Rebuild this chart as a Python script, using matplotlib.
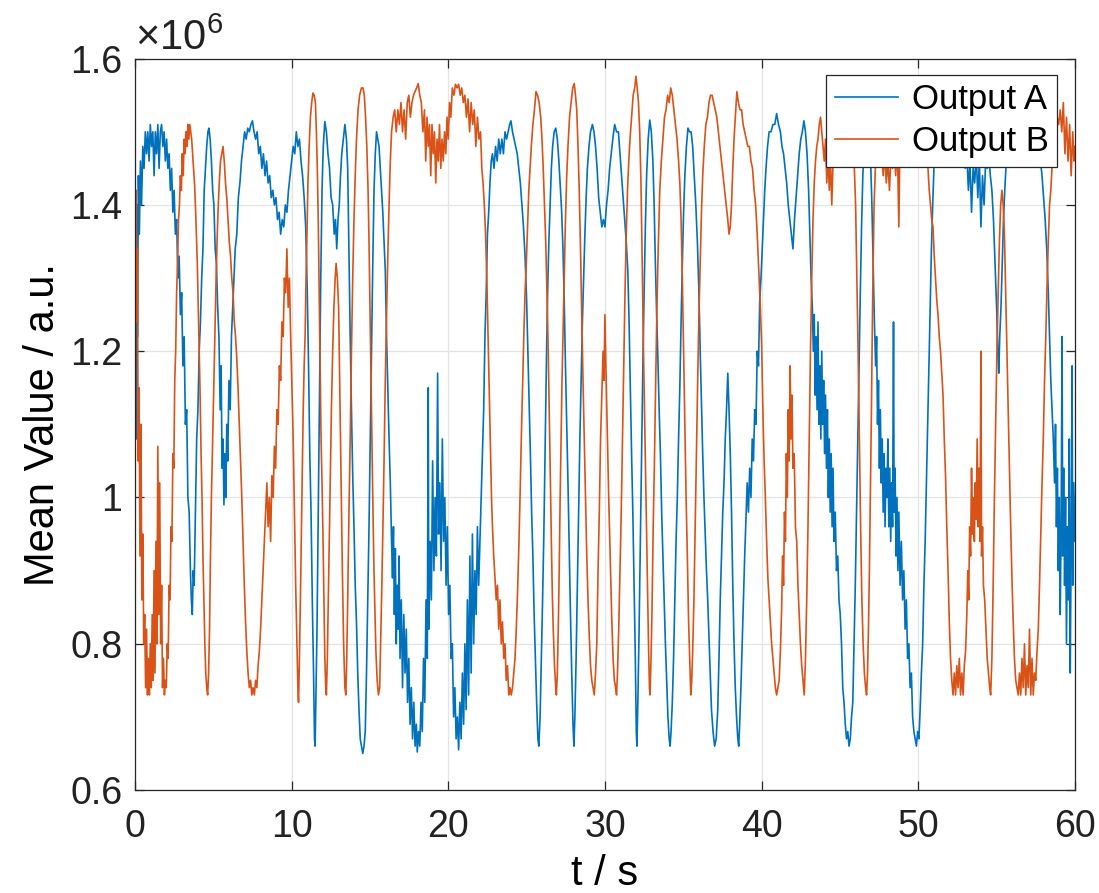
import matplotlib
matplotlib.use("Agg")
import matplotlib.pyplot as plt

plt.rcParams.update({
    "font.family": ["Liberation Sans", "DejaVu Sans"],
    "mathtext.fontset": "custom",
    "mathtext.rm": "Liberation Sans",
    "mathtext.it": "Liberation Sans",
})

# Mean value (x 1e6) against time t (s)
output_a = [
    (0.00, 1.15), (0.04, 1.32), (0.08, 1.08), (0.12, 1.40), (0.16, 1.22), (0.22, 1.44), (0.28, 1.36), (0.35, 1.46),
    (0.42, 1.40), (0.50, 1.48), (0.58, 1.45), (0.66, 1.50), (0.74, 1.47), (0.82, 1.50), (0.90, 1.46), (0.98, 1.51),
    (1.06, 1.48), (1.14, 1.50), (1.22, 1.44), (1.30, 1.50), (1.38, 1.47), (1.46, 1.51), (1.54, 1.45), (1.62, 1.50),
    (1.70, 1.51), (1.78, 1.48), (1.86, 1.50), (1.94, 1.46), (2.02, 1.49), (2.10, 1.45), (2.18, 1.47), (2.26, 1.42),
    (2.34, 1.45), (2.42, 1.39), (2.50, 1.42), (2.58, 1.36), (2.66, 1.38), (2.74, 1.30), (2.82, 1.33), (2.90, 1.25),
    (2.98, 1.28), (3.06, 1.18), (3.14, 1.22), (3.22, 1.10), (3.30, 1.12), (3.38, 1.00), (3.46, 0.98), (3.54, 0.90),
    (3.60, 0.86), (3.66, 0.84), (3.72, 0.90), (3.78, 0.88), (3.86, 0.98), (3.94, 1.08), (4.02, 1.12), (4.10, 1.20),
    (4.18, 1.24), (4.26, 1.30), (4.34, 1.34), (4.42, 1.42), (4.50, 1.45), (4.58, 1.48), (4.66, 1.50), (4.72, 1.505),
    (4.80, 1.49), (4.88, 1.46), (4.96, 1.42), (5.04, 1.40), (5.12, 1.34), (5.20, 1.32), (5.28, 1.26), (5.36, 1.22),
    (5.44, 1.12), (5.50, 1.18), (5.56, 1.04), (5.62, 1.08), (5.68, 0.99), (5.74, 1.06), (5.80, 1.00), (5.86, 1.10),
    (5.92, 1.05), (6.00, 1.16), (6.08, 1.12), (6.16, 1.22), (6.24, 1.26), (6.32, 1.30), (6.40, 1.34), (6.50, 1.36),
    (6.60, 1.41), (6.70, 1.43), (6.80, 1.46), (6.90, 1.48), (7.00, 1.50), (7.10, 1.49), (7.20, 1.505), (7.30, 1.50),
    (7.40, 1.51), (7.50, 1.515), (7.60, 1.50), (7.70, 1.49), (7.80, 1.50), (7.90, 1.47), (8.00, 1.48), (8.10, 1.45),
    (8.20, 1.47), (8.30, 1.44), (8.40, 1.46), (8.50, 1.43), (8.60, 1.44), (8.70, 1.41), (8.80, 1.42), (8.90, 1.40),
    (9.00, 1.41), (9.10, 1.38), (9.20, 1.39), (9.30, 1.36), (9.40, 1.38), (9.50, 1.37), (9.60, 1.40), (9.70, 1.39),
    (9.80, 1.42), (9.90, 1.44), (10.00, 1.46), (10.10, 1.48), (10.20, 1.47), (10.30, 1.50), (10.40, 1.48), (10.50, 1.49),
    (10.60, 1.46), (10.70, 1.44), (10.80, 1.41), (10.90, 1.37), (11.00, 1.28), (11.08, 1.18), (11.16, 1.06), (11.24, 0.98),
    (11.32, 0.86), (11.40, 0.76), (11.46, 0.67), (11.50, 0.66), (11.56, 0.74), (11.62, 0.82), (11.70, 0.98), (11.78, 1.14),
    (11.86, 1.30), (11.94, 1.42), (12.02, 1.48), (12.12, 1.514), (12.22, 1.50), (12.32, 1.47), (12.42, 1.45), (12.52, 1.41),
    (12.62, 1.40), (12.72, 1.36), (12.80, 1.38), (12.88, 1.34), (12.96, 1.38), (13.04, 1.40), (13.12, 1.44), (13.20, 1.47),
    (13.30, 1.49), (13.40, 1.51), (13.50, 1.49), (13.58, 1.45), (13.66, 1.33), (13.74, 1.22), (13.82, 1.12), (13.90, 1.03),
    (13.98, 0.96), (14.06, 0.88), (14.14, 0.83), (14.22, 0.76), (14.30, 0.71), (14.38, 0.67), (14.46, 0.66), (14.54, 0.65),
    (14.62, 0.66), (14.70, 0.68), (14.78, 0.76), (14.86, 0.86), (14.94, 0.96), (15.02, 1.08), (15.10, 1.20), (15.18, 1.32),
    (15.26, 1.42), (15.34, 1.47), (15.42, 1.50), (15.50, 1.49), (15.58, 1.48), (15.66, 1.45), (15.74, 1.42), (15.82, 1.39),
    (15.90, 1.35), (15.98, 1.31), (16.06, 1.22), (16.14, 1.15), (16.22, 1.08), (16.30, 1.02), (16.38, 0.94), (16.44, 0.89),
    (16.50, 0.96), (16.56, 0.84), (16.62, 0.93), (16.68, 0.80), (16.74, 0.88), (16.80, 0.82), (16.86, 0.92), (16.92, 0.78),
    (17.00, 0.86), (17.08, 0.74), (17.16, 0.84), (17.24, 0.76), (17.32, 0.82), (17.40, 0.72), (17.48, 0.78), (17.56, 0.69),
    (17.64, 0.74), (17.72, 0.67), (17.80, 0.72), (17.88, 0.66), (17.96, 0.69), (18.02, 0.652), (18.10, 0.68), (18.18, 0.66),
    (18.26, 0.72), (18.34, 0.68), (18.42, 0.78), (18.50, 0.72), (18.58, 0.86), (18.66, 0.78), (18.72, 1.15), (18.76, 0.82),
    (18.84, 0.94), (18.92, 0.86), (19.00, 1.05), (19.08, 0.90), (19.16, 1.00), (19.24, 0.92), (19.32, 1.17), (19.38, 0.95),
    (19.46, 1.02), (19.54, 0.90), (19.62, 1.08), (19.70, 0.94), (19.78, 1.00), (19.86, 0.88), (19.94, 0.96), (20.02, 0.84),
    (20.10, 0.88), (20.18, 0.78), (20.26, 0.80), (20.34, 0.70), (20.42, 0.74), (20.50, 0.67), (20.58, 0.70), (20.66, 0.655),
    (20.74, 0.72), (20.82, 0.67), (20.90, 0.76), (20.98, 0.69), (21.06, 0.80), (21.14, 0.71), (21.22, 0.86), (21.30, 0.73),
    (21.38, 0.92), (21.46, 0.76), (21.54, 0.95), (21.62, 0.80), (21.70, 0.90), (21.78, 0.84), (21.86, 0.96), (21.94, 0.88),
    (22.02, 0.94), (22.10, 1.00), (22.18, 1.06), (22.26, 1.12), (22.34, 1.22), (22.42, 1.28), (22.50, 1.36), (22.58, 1.39),
    (22.66, 1.43), (22.74, 1.46), (22.82, 1.47), (22.92, 1.45), (23.02, 1.48), (23.12, 1.46), (23.22, 1.49), (23.32, 1.47),
    (23.42, 1.49), (23.52, 1.47), (23.62, 1.50), (23.72, 1.49), (23.82, 1.50), (23.92, 1.51), (24.00, 1.515), (24.10, 1.50),
    (24.20, 1.49), (24.30, 1.48), (24.40, 1.47), (24.50, 1.45), (24.60, 1.43), (24.70, 1.40), (24.80, 1.37), (24.90, 1.33),
    (25.00, 1.27), (25.08, 1.20), (25.16, 1.13), (25.24, 1.06), (25.32, 0.98), (25.40, 0.92), (25.48, 0.84), (25.56, 0.78),
    (25.64, 0.72), (25.72, 0.67), (25.78, 0.66), (25.86, 0.70), (25.94, 0.78), (26.02, 0.86), (26.10, 0.95), (26.18, 1.07),
    (26.26, 1.18), (26.34, 1.28), (26.42, 1.35), (26.50, 1.40), (26.58, 1.45), (26.66, 1.48), (26.76, 1.50), (26.86, 1.505),
    (26.96, 1.49), (27.06, 1.46), (27.16, 1.42), (27.24, 1.39), (27.32, 1.34), (27.40, 1.27), (27.48, 1.18), (27.56, 1.10),
    (27.64, 1.02), (27.72, 0.93), (27.80, 0.84), (27.88, 0.76), (27.96, 0.69), (28.02, 0.66), (28.08, 0.70), (28.16, 0.78),
    (28.24, 0.88), (28.32, 0.98), (28.40, 1.08), (28.48, 1.16), (28.56, 1.24), (28.64, 1.30), (28.72, 1.36), (28.80, 1.41),
    (28.88, 1.45), (28.98, 1.48), (29.08, 1.50), (29.20, 1.51), (29.30, 1.50), (29.40, 1.48), (29.50, 1.45), (29.60, 1.41),
    (29.70, 1.39), (29.80, 1.37), (29.90, 1.38), (30.00, 1.37), (30.10, 1.40), (30.20, 1.42), (30.30, 1.45), (30.40, 1.47),
    (30.50, 1.49), (30.62, 1.51), (30.74, 1.50), (30.86, 1.50), (30.96, 1.47), (31.06, 1.44), (31.16, 1.41), (31.26, 1.38),
    (31.36, 1.35), (31.46, 1.31), (31.54, 1.24), (31.62, 1.15), (31.70, 1.06), (31.78, 0.98), (31.86, 0.88), (31.94, 0.78),
    (32.00, 0.68), (32.04, 0.66), (32.10, 0.72), (32.18, 0.82), (32.26, 0.94), (32.34, 1.06), (32.42, 1.18), (32.50, 1.28),
    (32.58, 1.37), (32.66, 1.44), (32.76, 1.49), (32.86, 1.516), (32.96, 1.50), (33.06, 1.46), (33.14, 1.40), (33.22, 1.32),
    (33.30, 1.25), (33.38, 1.19), (33.46, 1.12), (33.54, 1.06), (33.62, 0.98), (33.70, 0.92), (33.78, 0.86), (33.86, 0.80),
    (33.94, 0.75), (34.02, 0.70), (34.10, 0.67), (34.16, 0.66), (34.22, 0.68), (34.30, 0.72), (34.38, 0.78), (34.46, 0.86),
    (34.54, 0.94), (34.62, 1.00), (34.70, 1.08), (34.78, 1.15), (34.86, 1.24), (34.94, 1.32), (35.02, 1.39), (35.10, 1.44),
    (35.20, 1.48), (35.30, 1.505), (35.40, 1.50), (35.50, 1.50), (35.60, 1.48), (35.70, 1.44), (35.80, 1.40), (35.90, 1.35),
    (36.00, 1.28), (36.08, 1.20), (36.16, 1.13), (36.24, 1.06), (36.32, 1.00), (36.40, 0.95), (36.48, 0.90), (36.56, 0.86),
    (36.64, 0.81), (36.72, 0.76), (36.80, 0.71), (36.90, 0.68), (37.00, 0.66), (37.10, 0.67), (37.20, 0.71), (37.28, 0.78),
    (37.36, 0.86), (37.44, 0.92), (37.52, 0.98), (37.60, 1.02), (37.68, 1.08), (37.76, 1.12), (37.84, 1.17), (37.92, 1.12),
    (38.00, 1.06), (38.08, 0.98), (38.16, 0.88), (38.24, 0.80), (38.32, 0.74), (38.40, 0.70), (38.48, 0.67), (38.54, 0.66),
    (38.60, 0.69), (38.68, 0.74), (38.76, 0.80), (38.84, 0.86), (38.92, 0.92), (39.00, 0.97), (39.08, 1.02), (39.16, 0.98),
    (39.24, 1.04), (39.32, 1.00), (39.40, 1.08), (39.48, 1.05), (39.56, 1.12), (39.64, 1.10), (39.72, 1.20), (39.80, 1.18),
    (39.88, 1.27), (39.96, 1.30), (40.04, 1.34), (40.12, 1.38), (40.20, 1.42), (40.28, 1.45), (40.38, 1.48), (40.48, 1.50),
    (40.60, 1.50), (40.72, 1.51), (40.84, 1.51), (40.96, 1.525), (41.08, 1.51), (41.20, 1.50), (41.30, 1.48), (41.40, 1.47),
    (41.50, 1.45), (41.60, 1.43), (41.70, 1.40), (41.80, 1.38), (41.90, 1.36), (42.00, 1.34), (42.10, 1.38), (42.20, 1.41),
    (42.30, 1.44), (42.40, 1.47), (42.50, 1.49), (42.60, 1.50), (42.70, 1.515), (42.80, 1.50), (42.90, 1.47), (43.00, 1.42),
    (43.08, 1.36), (43.16, 1.30), (43.24, 1.26), (43.30, 1.20), (43.36, 1.25), (43.42, 1.14), (43.48, 1.22), (43.54, 1.12),
    (43.60, 1.24), (43.66, 1.10), (43.72, 1.18), (43.78, 1.08), (43.84, 1.20), (43.90, 1.10), (43.96, 1.16), (44.02, 1.06),
    (44.08, 1.14), (44.14, 1.04), (44.20, 1.12), (44.26, 1.00), (44.32, 1.08), (44.38, 0.98), (44.44, 1.06), (44.50, 0.96),
    (44.56, 1.04), (44.62, 0.94), (44.70, 0.98), (44.78, 0.90), (44.86, 0.92), (44.94, 0.86), (45.02, 0.84), (45.10, 0.80),
    (45.18, 0.74), (45.26, 0.72), (45.34, 0.69), (45.42, 0.67), (45.50, 0.68), (45.58, 0.66), (45.66, 0.67), (45.74, 0.70),
    (45.82, 0.72), (45.90, 0.80), (45.98, 0.88), (46.06, 0.98), (46.14, 1.08), (46.22, 1.18), (46.30, 1.28), (46.38, 1.37),
    (46.46, 1.44), (46.56, 1.48), (46.66, 1.50), (46.76, 1.51), (46.86, 1.50), (46.96, 1.46), (47.04, 1.40), (47.12, 1.32),
    (47.20, 1.24), (47.28, 1.18), (47.34, 1.22), (47.40, 1.10), (47.46, 1.16), (47.52, 1.04), (47.58, 1.12), (47.64, 1.02),
    (47.70, 1.08), (47.76, 0.98), (47.82, 1.06), (47.88, 0.96), (47.94, 1.04), (48.00, 1.00), (48.06, 1.08), (48.12, 0.96),
    (48.18, 1.04), (48.24, 0.94), (48.30, 1.02), (48.36, 0.96), (48.42, 1.24), (48.46, 0.98), (48.52, 1.04), (48.58, 0.92),
    (48.64, 1.00), (48.70, 0.90), (48.76, 0.98), (48.84, 0.88), (48.92, 0.94), (49.00, 0.86), (49.08, 0.90), (49.16, 0.82),
    (49.24, 0.86), (49.32, 0.78), (49.40, 0.80), (49.48, 0.74), (49.56, 0.76), (49.64, 0.70), (49.72, 0.68), (49.80, 0.67),
    (49.88, 0.66), (49.96, 0.68), (50.04, 0.67), (50.12, 0.71), (50.20, 0.76), (50.28, 0.80), (50.36, 0.88), (50.44, 0.94),
    (50.52, 1.02), (50.60, 1.10), (50.68, 1.18), (50.76, 1.26), (50.84, 1.34), (50.92, 1.40), (51.00, 1.45), (51.10, 1.48),
    (51.20, 1.50), (51.30, 1.48), (51.40, 1.51), (51.50, 1.49), (51.60, 1.47), (51.70, 1.50), (51.80, 1.46), (51.90, 1.49),
    (52.00, 1.47), (52.10, 1.50), (52.20, 1.48), (52.30, 1.51), (52.40, 1.49), (52.50, 1.50), (52.60, 1.47), (52.70, 1.49),
    (52.80, 1.46), (52.90, 1.48), (53.00, 1.45), (53.10, 1.47), (53.20, 1.42), (53.30, 1.46), (53.40, 1.39), (53.50, 1.45),
    (53.60, 1.43), (53.70, 1.47), (53.80, 1.41), (53.90, 1.46), (54.00, 1.37), (54.10, 1.44), (54.20, 1.40), (54.30, 1.46),
    (54.40, 1.45), (54.50, 1.47), (54.60, 1.44), (54.70, 1.42), (54.80, 1.38), (54.90, 1.32), (55.00, 1.26), (55.08, 1.20),
    (55.14, 1.17), (55.20, 1.22), (55.28, 1.26), (55.36, 1.32), (55.44, 1.38), (55.52, 1.42), (55.62, 1.46), (55.72, 1.49),
    (55.84, 1.50), (55.96, 1.52), (56.08, 1.51), (56.20, 1.52), (56.35, 1.50), (56.50, 1.51), (56.65, 1.50), (56.80, 1.52),
    (56.95, 1.51), (57.10, 1.52), (57.25, 1.50), (57.40, 1.51), (57.55, 1.49), (57.70, 1.48), (57.80, 1.46), (57.90, 1.44),
    (58.00, 1.41), (58.10, 1.38), (58.20, 1.34), (58.30, 1.28), (58.38, 1.22), (58.46, 1.16), (58.54, 1.12), (58.62, 1.08),
    (58.70, 1.02), (58.76, 1.10), (58.82, 0.96), (58.88, 1.04), (58.94, 0.90), (59.00, 1.00), (59.06, 0.84), (59.12, 0.96),
    (59.18, 1.22), (59.22, 0.92), (59.28, 1.04), (59.34, 0.88), (59.40, 1.00), (59.46, 0.80), (59.52, 0.96), (59.58, 0.86),
    (59.64, 1.08), (59.70, 0.76), (59.76, 0.94), (59.82, 1.18), (59.86, 0.88), (59.92, 1.02), (60.00, 0.94),
]

output_b = [
    (0.00, 1.45), (0.04, 1.30), (0.08, 1.42), (0.12, 1.24), (0.16, 1.34), (0.20, 1.05), (0.26, 1.15), (0.32, 0.92),
    (0.38, 1.10), (0.44, 0.86), (0.50, 0.95), (0.56, 0.80), (0.62, 0.84), (0.68, 0.74), (0.74, 0.82), (0.80, 0.73),
    (0.86, 0.78), (0.92, 0.73), (0.98, 0.80), (1.04, 0.74), (1.10, 0.84), (1.16, 0.75), (1.22, 0.90), (1.28, 0.76),
    (1.34, 0.94), (1.40, 0.80), (1.46, 1.07), (1.52, 0.84), (1.58, 1.02), (1.64, 0.80), (1.70, 0.88), (1.76, 0.74),
    (1.82, 0.78), (1.88, 0.73), (1.94, 0.75), (2.00, 0.74), (2.06, 0.80), (2.12, 0.78), (2.18, 0.88), (2.24, 0.86),
    (2.30, 0.96), (2.36, 0.94), (2.42, 1.06), (2.48, 1.04), (2.54, 1.16), (2.60, 1.20), (2.66, 1.28), (2.72, 1.32),
    (2.78, 1.38), (2.84, 1.40), (2.90, 1.44), (2.96, 1.42), (3.02, 1.47), (3.08, 1.44), (3.14, 1.49), (3.20, 1.47),
    (3.26, 1.50), (3.32, 1.48), (3.38, 1.51), (3.44, 1.49), (3.50, 1.51), (3.56, 1.50), (3.62, 1.49), (3.68, 1.47),
    (3.74, 1.45), (3.80, 1.43), (3.86, 1.40), (3.92, 1.36), (3.98, 1.32), (4.04, 1.26), (4.10, 1.20), (4.16, 1.14),
    (4.22, 1.06), (4.28, 1.00), (4.34, 0.92), (4.40, 0.86), (4.46, 0.80), (4.52, 0.76), (4.58, 0.74), (4.64, 0.73),
    (4.70, 0.76), (4.76, 0.82), (4.82, 0.92), (4.88, 1.00), (4.94, 1.06), (5.00, 1.12), (5.06, 1.18), (5.12, 1.24),
    (5.18, 1.30), (5.24, 1.35), (5.30, 1.39), (5.38, 1.43), (5.46, 1.46), (5.54, 1.47), (5.62, 1.48), (5.70, 1.46),
    (5.78, 1.43), (5.86, 1.41), (5.94, 1.38), (6.02, 1.35), (6.10, 1.33), (6.18, 1.30), (6.26, 1.28), (6.34, 1.24),
    (6.42, 1.22), (6.50, 1.19), (6.58, 1.15), (6.66, 1.10), (6.74, 1.05), (6.82, 1.00), (6.90, 0.94), (6.98, 0.88),
    (7.06, 0.83), (7.14, 0.79), (7.22, 0.76), (7.30, 0.74), (7.38, 0.75), (7.46, 0.73), (7.54, 0.74), (7.62, 0.73),
    (7.70, 0.75), (7.78, 0.74), (7.86, 0.77), (7.94, 0.79), (8.02, 0.82), (8.10, 0.86), (8.18, 0.90), (8.26, 0.94),
    (8.34, 0.98), (8.42, 1.02), (8.50, 0.96), (8.58, 1.00), (8.66, 0.94), (8.74, 1.03), (8.82, 1.00), (8.90, 1.07),
    (8.98, 1.04), (9.06, 1.12), (9.14, 1.10), (9.22, 1.18), (9.30, 1.16), (9.38, 1.24), (9.46, 1.22), (9.54, 1.30),
    (9.62, 1.28), (9.70, 1.34), (9.78, 1.26), (9.86, 1.30), (9.94, 1.22), (10.02, 1.15), (10.10, 1.08), (10.18, 0.98),
    (10.26, 0.88), (10.34, 0.80), (10.40, 0.74), (10.44, 0.72), (10.50, 0.78), (10.56, 0.86), (10.62, 0.95), (10.68, 1.04),
    (10.74, 1.12), (10.80, 1.18), (10.86, 1.22), (10.92, 1.30), (10.98, 1.36), (11.04, 1.43), (11.12, 1.48), (11.20, 1.52),
    (11.28, 1.54), (11.36, 1.553), (11.44, 1.55), (11.52, 1.54), (11.58, 1.50), (11.64, 1.45), (11.70, 1.38), (11.76, 1.28),
    (11.82, 1.18), (11.88, 1.08), (11.94, 1.02), (12.00, 0.95), (12.06, 0.86), (12.12, 0.78), (12.18, 0.74), (12.22, 0.73),
    (12.28, 0.78), (12.34, 0.86), (12.40, 0.94), (12.46, 1.02), (12.54, 1.12), (12.62, 1.20), (12.70, 1.26), (12.78, 1.30),
    (12.84, 1.32), (12.92, 1.30), (13.00, 1.26), (13.08, 1.14), (13.16, 1.02), (13.24, 0.90), (13.32, 0.80), (13.40, 0.74),
    (13.46, 0.73), (13.52, 0.78), (13.58, 0.86), (13.66, 0.98), (13.74, 1.08), (13.82, 1.20), (13.90, 1.30), (13.98, 1.38),
    (14.06, 1.44), (14.14, 1.49), (14.24, 1.53), (14.34, 1.55), (14.46, 1.56), (14.56, 1.56), (14.64, 1.55), (14.72, 1.52),
    (14.80, 1.48), (14.88, 1.42), (14.94, 1.35), (15.00, 1.26), (15.06, 1.18), (15.12, 1.08), (15.18, 1.00), (15.24, 0.92),
    (15.30, 0.86), (15.38, 0.79), (15.46, 0.75), (15.54, 0.73), (15.62, 0.74), (15.68, 0.80), (15.74, 0.86), (15.82, 0.95),
    (15.90, 1.05), (15.98, 1.16), (16.06, 1.25), (16.14, 1.33), (16.22, 1.40), (16.30, 1.46), (16.38, 1.50), (16.48, 1.52),
    (16.58, 1.53), (16.68, 1.50), (16.78, 1.53), (16.88, 1.51), (16.98, 1.54), (17.08, 1.50), (17.18, 1.53), (17.28, 1.49),
    (17.38, 1.54), (17.48, 1.55), (17.58, 1.52), (17.68, 1.54), (17.78, 1.55), (17.88, 1.555), (17.98, 1.56), (18.08, 1.566),
    (18.18, 1.55), (18.28, 1.54), (18.38, 1.50), (18.48, 1.53), (18.56, 1.46), (18.64, 1.52), (18.72, 1.48), (18.80, 1.51),
    (18.88, 1.44), (18.96, 1.51), (19.04, 1.47), (19.12, 1.50), (19.20, 1.43), (19.28, 1.49), (19.36, 1.46), (19.44, 1.51),
    (19.52, 1.45), (19.60, 1.49), (19.68, 1.46), (19.76, 1.50), (19.84, 1.47), (19.92, 1.52), (20.00, 1.49), (20.08, 1.54),
    (20.16, 1.52), (20.26, 1.56), (20.36, 1.55), (20.46, 1.565), (20.56, 1.56), (20.66, 1.565), (20.76, 1.55), (20.86, 1.56),
    (20.96, 1.54), (21.06, 1.55), (21.16, 1.52), (21.26, 1.545), (21.36, 1.50), (21.46, 1.54), (21.56, 1.51), (21.66, 1.53),
    (21.76, 1.48), (21.86, 1.52), (21.96, 1.49), (22.06, 1.50), (22.14, 1.45), (22.22, 1.43), (22.30, 1.40), (22.38, 1.36),
    (22.46, 1.30), (22.52, 1.24), (22.58, 1.18), (22.64, 1.12), (22.70, 1.06), (22.76, 1.00), (22.82, 0.96), (22.90, 0.92),
    (22.98, 0.89), (23.06, 0.86), (23.14, 0.88), (23.22, 0.82), (23.30, 0.86), (23.38, 0.80), (23.46, 0.83), (23.54, 0.78),
    (23.62, 0.80), (23.70, 0.75), (23.78, 0.77), (23.86, 0.73), (23.94, 0.74), (24.02, 0.73), (24.10, 0.74), (24.18, 0.76),
    (24.26, 0.78), (24.34, 0.82), (24.42, 0.87), (24.50, 0.93), (24.58, 1.00), (24.66, 1.08), (24.74, 1.15), (24.82, 1.22),
    (24.90, 1.28), (24.98, 1.32), (25.06, 1.37), (25.14, 1.42), (25.22, 1.45), (25.30, 1.48), (25.40, 1.51), (25.50, 1.53),
    (25.60, 1.555), (25.70, 1.55), (25.80, 1.54), (25.90, 1.52), (25.98, 1.49), (26.06, 1.45), (26.14, 1.40), (26.22, 1.35),
    (26.30, 1.28), (26.38, 1.20), (26.46, 1.10), (26.52, 1.02), (26.58, 0.94), (26.64, 0.87), (26.70, 0.82), (26.78, 0.77),
    (26.86, 0.74), (26.90, 0.73), (26.96, 0.76), (27.02, 0.82), (27.08, 0.90), (27.14, 1.00), (27.20, 1.08), (27.26, 1.16),
    (27.32, 1.22), (27.40, 1.30), (27.48, 1.38), (27.56, 1.44), (27.64, 1.48), (27.74, 1.52), (27.84, 1.54), (27.94, 1.56),
    (28.04, 1.566), (28.12, 1.55), (28.20, 1.53), (28.28, 1.48), (28.36, 1.42), (28.44, 1.34), (28.52, 1.25), (28.60, 1.16),
    (28.68, 1.08), (28.76, 1.00), (28.84, 0.92), (28.92, 0.86), (29.00, 0.81), (29.08, 0.77), (29.16, 0.75), (29.24, 0.74),
    (29.32, 0.73), (29.40, 0.76), (29.48, 0.80), (29.56, 0.90), (29.64, 0.98), (29.72, 1.08), (29.80, 1.14), (29.88, 1.20),
    (29.94, 1.16), (30.00, 1.25), (30.06, 1.18), (30.12, 1.12), (30.18, 1.06), (30.24, 1.00), (30.30, 0.95), (30.36, 0.90),
    (30.44, 0.83), (30.52, 0.78), (30.60, 0.75), (30.68, 0.74), (30.74, 0.73), (30.80, 0.76), (30.88, 0.82), (30.96, 0.90),
    (31.04, 0.98), (31.12, 1.08), (31.20, 1.18), (31.28, 1.28), (31.36, 1.36), (31.44, 1.42), (31.52, 1.46), (31.60, 1.49),
    (31.70, 1.52), (31.80, 1.55), (31.90, 1.56), (31.98, 1.576), (32.06, 1.56), (32.14, 1.54), (32.22, 1.50), (32.30, 1.43),
    (32.38, 1.32), (32.46, 1.20), (32.54, 1.10), (32.62, 1.00), (32.70, 0.90), (32.78, 0.80), (32.84, 0.74), (32.88, 0.73),
    (32.94, 0.78), (33.00, 0.84), (33.08, 0.96), (33.16, 1.05), (33.24, 1.16), (33.32, 1.26), (33.40, 1.34), (33.50, 1.42),
    (33.60, 1.46), (33.70, 1.49), (33.80, 1.52), (33.90, 1.53), (34.00, 1.55), (34.10, 1.54), (34.20, 1.56), (34.30, 1.55),
    (34.40, 1.53), (34.50, 1.51), (34.60, 1.49), (34.70, 1.46), (34.78, 1.43), (34.86, 1.38), (34.94, 1.30), (35.02, 1.20),
    (35.10, 1.10), (35.18, 1.00), (35.26, 0.92), (35.34, 0.83), (35.42, 0.77), (35.48, 0.73), (35.54, 0.75), (35.60, 0.79),
    (35.68, 0.86), (35.76, 0.96), (35.84, 1.06), (35.92, 1.16), (36.00, 1.25), (36.08, 1.32), (36.16, 1.39), (36.24, 1.44),
    (36.34, 1.48), (36.44, 1.51), (36.54, 1.52), (36.64, 1.54), (36.74, 1.55), (36.84, 1.55), (36.94, 1.54), (37.04, 1.53),
    (37.14, 1.52), (37.24, 1.50), (37.34, 1.48), (37.44, 1.46), (37.54, 1.44), (37.64, 1.42), (37.74, 1.40), (37.84, 1.38),
    (37.92, 1.36), (38.00, 1.37), (38.08, 1.40), (38.16, 1.45), (38.24, 1.49), (38.32, 1.52), (38.42, 1.555), (38.52, 1.54),
    (38.62, 1.53), (38.72, 1.53), (38.82, 1.51), (38.92, 1.50), (39.02, 1.49), (39.12, 1.48), (39.22, 1.48), (39.32, 1.46),
    (39.42, 1.45), (39.52, 1.42), (39.62, 1.40), (39.72, 1.36), (39.82, 1.31), (39.92, 1.26), (40.00, 1.21), (40.08, 1.12),
    (40.16, 1.05), (40.24, 1.00), (40.32, 0.94), (40.40, 0.89), (40.48, 0.86), (40.56, 0.83), (40.64, 0.80), (40.72, 0.78),
    (40.80, 0.76), (40.88, 0.74), (40.96, 0.73), (41.04, 0.74), (41.12, 0.75), (41.20, 0.79), (41.28, 0.85), (41.34, 0.92),
    (41.40, 0.88), (41.46, 0.98), (41.52, 0.94), (41.58, 1.06), (41.64, 1.00), (41.70, 1.12), (41.76, 1.05), (41.82, 1.18),
    (41.88, 1.08), (41.94, 1.14), (42.00, 1.04), (42.08, 1.06), (42.16, 0.96), (42.24, 0.94), (42.32, 0.88), (42.40, 0.84),
    (42.48, 0.80), (42.56, 0.77), (42.64, 0.75), (42.72, 0.73), (42.80, 0.78), (42.88, 0.86), (42.96, 0.96), (43.04, 1.08),
    (43.12, 1.20), (43.20, 1.30), (43.28, 1.38), (43.36, 1.43), (43.44, 1.46), (43.52, 1.48), (43.60, 1.49), (43.68, 1.51),
    (43.76, 1.52), (43.84, 1.50), (43.92, 1.48), (44.00, 1.46), (44.08, 1.49), (44.16, 1.43), (44.24, 1.47), (44.32, 1.42),
    (44.40, 1.46), (44.48, 1.40), (44.56, 1.46), (44.64, 1.47), (44.74, 1.48), (44.84, 1.50), (44.94, 1.49), (45.04, 1.50),
    (45.14, 1.51), (45.24, 1.50), (45.34, 1.52), (45.44, 1.51), (45.54, 1.52), (45.64, 1.50), (45.74, 1.50), (45.84, 1.48),
    (45.92, 1.45), (46.00, 1.40), (46.08, 1.30), (46.16, 1.20), (46.24, 1.08), (46.32, 0.96), (46.40, 0.86), (46.48, 0.80),
    (46.56, 0.76), (46.64, 0.74), (46.70, 0.73), (46.76, 0.76), (46.82, 0.82), (46.88, 0.90), (46.94, 1.00), (47.00, 1.10),
    (47.06, 1.22), (47.12, 1.32), (47.18, 1.40), (47.26, 1.45), (47.36, 1.47), (47.46, 1.49), (47.56, 1.46), (47.66, 1.48),
    (47.76, 1.44), (47.86, 1.47), (47.96, 1.43), (48.06, 1.46), (48.16, 1.42), (48.26, 1.47), (48.36, 1.45), (48.46, 1.48),
    (48.56, 1.44), (48.66, 1.49), (48.76, 1.37), (48.82, 1.47), (48.92, 1.46), (49.02, 1.50), (49.12, 1.48), (49.22, 1.50),
    (49.32, 1.47), (49.42, 1.50), (49.52, 1.49), (49.62, 1.51), (49.72, 1.50), (49.82, 1.51), (49.92, 1.52), (50.02, 1.50),
    (50.12, 1.52), (50.22, 1.51), (50.32, 1.52), (50.42, 1.50), (50.52, 1.48), (50.62, 1.45), (50.70, 1.42), (50.78, 1.40),
    (50.86, 1.38), (50.94, 1.37), (51.02, 1.33), (51.10, 1.30), (51.18, 1.27), (51.26, 1.25), (51.34, 1.22), (51.42, 1.20),
    (51.50, 1.17), (51.58, 1.14), (51.66, 1.08), (51.74, 1.03), (51.82, 0.96), (51.90, 0.90), (51.98, 0.83), (52.06, 0.78),
    (52.14, 0.75), (52.22, 0.73), (52.30, 0.76), (52.38, 0.73), (52.46, 0.77), (52.54, 0.74), (52.62, 0.78), (52.70, 0.73),
    (52.78, 0.76), (52.86, 0.73), (52.94, 0.77), (53.02, 0.79), (53.10, 0.84), (53.16, 0.90), (53.22, 0.86), (53.28, 0.96),
    (53.34, 0.92), (53.40, 1.04), (53.46, 0.95), (53.52, 1.00), (53.58, 0.94), (53.64, 1.02), (53.70, 0.97), (53.76, 1.08),
    (53.82, 0.96), (53.88, 1.04), (53.94, 0.94), (54.00, 1.20), (54.04, 0.92), (54.10, 0.96), (54.16, 0.88), (54.24, 0.86),
    (54.32, 0.82), (54.40, 0.78), (54.48, 0.76), (54.56, 0.74), (54.62, 0.73), (54.70, 0.78), (54.78, 0.88), (54.86, 1.00),
    (54.94, 1.10), (55.02, 1.20), (55.10, 1.28), (55.18, 1.35), (55.26, 1.40), (55.34, 1.42), (55.42, 1.40), (55.50, 1.36),
    (55.58, 1.28), (55.66, 1.20), (55.74, 1.12), (55.82, 1.04), (55.90, 0.96), (55.98, 0.89), (56.06, 0.83), (56.14, 0.78),
    (56.22, 0.75), (56.30, 0.74), (56.38, 0.73), (56.46, 0.76), (56.54, 0.73), (56.62, 0.78), (56.70, 0.74), (56.78, 0.80),
    (56.86, 0.73), (56.94, 0.77), (57.02, 0.74), (57.10, 0.82), (57.18, 0.73), (57.26, 0.78), (57.34, 0.73), (57.42, 0.76),
    (57.50, 0.75), (57.58, 0.79), (57.66, 0.82), (57.74, 0.88), (57.82, 0.95), (57.90, 1.02), (57.98, 1.08), (58.06, 1.16),
    (58.14, 1.22), (58.22, 1.29), (58.30, 1.35), (58.38, 1.40), (58.46, 1.42), (58.56, 1.46), (58.66, 1.48), (58.76, 1.50),
    (58.86, 1.52), (58.96, 1.51), (59.06, 1.53), (59.16, 1.50), (59.26, 1.54), (59.36, 1.47), (59.46, 1.52), (59.56, 1.46),
    (59.66, 1.51), (59.76, 1.44), (59.86, 1.50), (59.94, 1.46), (60.00, 1.48),
]

series_labels = ["Output A", "Output B"]
series_colors = ["#0072BD", "#D95319"]
x_ticks = [0, 10, 20, 30, 40, 50, 60]
y_ticks = [0.6, 0.8, 1.0, 1.2, 1.4, 1.6]
y_tick_labels = ["0.6", "0.8", "1", "1.2", "1.4", "1.6"]

fig = plt.figure(figsize=(10.99, 8.93), dpi=100)
ax = fig.add_axes([0.1228, 0.1153, 0.8553, 0.8190])

for pts, lab, col in zip([output_a, output_b], series_labels, series_colors):
    t = [p[0] for p in pts]
    v = [p[1] for p in pts]
    ax.plot(t, v, color=col, linewidth=1.2, label=lab)

ax.set_xlim(0, 60)
ax.set_ylim(0.6, 1.6)
ax.set_xticks(x_ticks)
ax.set_yticks(y_ticks)
ax.set_yticklabels(y_tick_labels)
ax.grid(True, color="#e3e3e3", linewidth=0.9)
ax.set_axisbelow(True)

ax.tick_params(direction="in", length=6.5, width=0.9, colors="#262626",
               labelsize=27, top=True, right=True)
ax.tick_params(axis="x", pad=14)
ax.tick_params(axis="y", pad=9)
ax.tick_params(labelcolor="#222222")
for s in ax.spines.values():
    s.set_color("#262626")
    s.set_linewidth(0.9)

ax.set_xlabel("t / s", fontsize=30, labelpad=6)
ax.set_ylabel("Mean Value / a.u.", fontsize=30, labelpad=5)
ax.text(0.0, 1.0, r"$\times10^{6}$", transform=ax.transAxes,
        ha="left", va="bottom", fontsize=30, color="#222222")

leg = ax.legend(loc="upper right", bbox_to_anchor=(0.981, 0.978),
                borderaxespad=0, fontsize=25, handlelength=1.8,
                handletextpad=0.4, borderpad=0.25, labelspacing=0.25,
                fancybox=False, framealpha=1, edgecolor="#262626")
leg.get_frame().set_linewidth(0.9)

fig.savefig("out.png", dpi=100)
